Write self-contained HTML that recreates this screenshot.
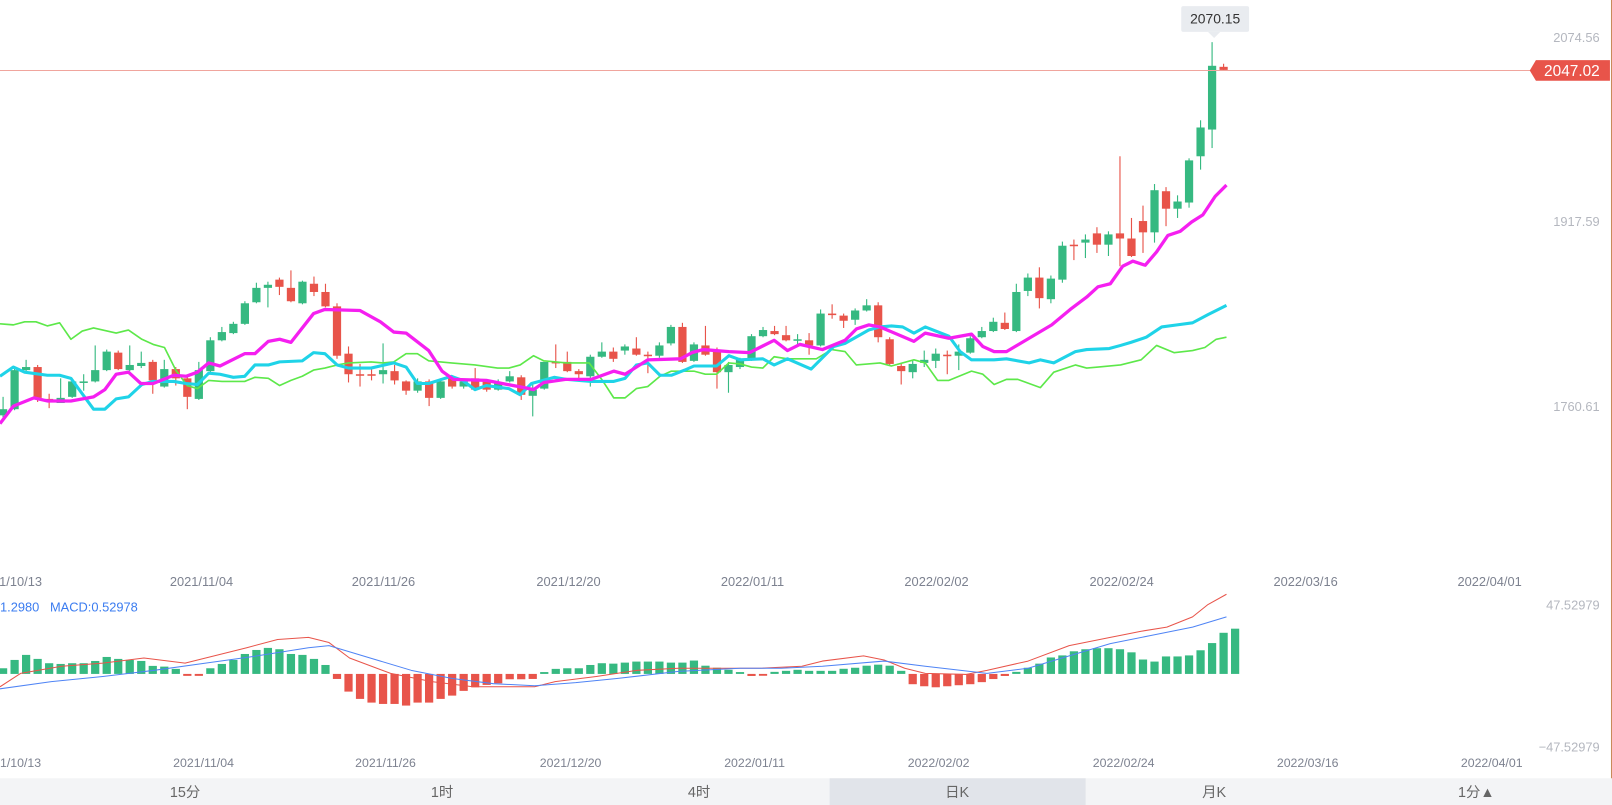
<!DOCTYPE html>
<html><head><meta charset="utf-8">
<style>
html,body{margin:0;padding:0;background:#fff;overflow:hidden;}
svg{display:block;}
text{font-family:"Liberation Sans","Noto Sans CJK SC",sans-serif;}
</style></head>
<body>
<svg id="s" width="1612" height="805" viewBox="0 0 1568 783" preserveAspectRatio="none" xmlns="http://www.w3.org/2000/svg">
<rect width="1568" height="783" fill="#fff"/>
<g id="cd"></g>
<g id="ln"></g>
<g id="mc"></g>
<line x1="0" y1="68.6" x2="1490" y2="68.6" stroke="#f0a59d" stroke-width="1"/>
<path d="M1488 68.6 L1494 58.5 H1566 V78.5 H1494 Z" fill="#e8544a"/>
<text x="1529" y="74" fill="#fff" font-size="15" text-anchor="middle">2047.02</text>
<rect x="1149" y="6" width="66" height="25" rx="2" fill="#e9ecf0"/>
<path d="M1175 31 L1181 37 L1187 31 Z" fill="#e9ecf0"/>
<text x="1182" y="23" fill="#333" font-size="13.5" text-anchor="middle">2070.15</text>
<g font-size="12.5" fill="#b4b7bf" text-anchor="end">
<text x="1556" y="41">2074.56</text>
<text x="1556" y="220">1917.59</text>
<text x="1556" y="400">1760.61</text>
<text x="1556" y="593">47.52979</text>
<text x="1556" y="731">−47.52979</text>
</g>
<g font-size="12.5" fill="#7d8290" text-anchor="middle">
<text x="20" y="570">1/10/13</text>
<text x="196" y="570">2021/11/04</text>
<text x="373" y="570">2021/11/26</text>
<text x="553" y="570">2021/12/20</text>
<text x="732" y="570">2022/01/11</text>
<text x="911" y="570">2022/02/02</text>
<text x="1091" y="570">2022/02/24</text>
<text x="1270" y="570">2022/03/16</text>
<text x="1449" y="570">2022/04/01</text>
</g>
<g font-size="12" fill="#7d8290" text-anchor="middle">
<text x="20" y="746">1/10/13</text>
<text x="198" y="746">2021/11/04</text>
<text x="375" y="746">2021/11/26</text>
<text x="555" y="746">2021/12/20</text>
<text x="734" y="746">2022/01/11</text>
<text x="913" y="746">2022/02/02</text>
<text x="1093" y="746">2022/02/24</text>
<text x="1272" y="746">2022/03/16</text>
<text x="1451" y="746">2022/04/01</text>
</g>
<text x="0" y="595" font-size="12.5" fill="#3b7cf0" xml:space="preserve">1.2980   MACD:0.52978</text>
<rect x="0" y="757" width="1568" height="26" fill="#f3f4f6"/>
<rect x="807" y="757" width="249" height="26" fill="#e1e4ea"/>
<g font-size="14" fill="#666" text-anchor="middle">
<text x="180" y="775">15分</text>
<text x="430" y="775">1时</text>
<text x="680" y="775">4时</text>
<text x="931" y="775">日K</text>
<text x="1181" y="775">月K</text>
<text x="1436" y="775">1分▲</text>
</g>
<line x1="1567.5" y1="0" x2="1567.5" y2="757" stroke="#c88a5a" stroke-width="1"/>
</svg>
<script>
var NS="http://www.w3.org/2000/svg";
function el(p,t,a){var e=document.createElementNS(NS,t);for(var k in a)e.setAttribute(k,a[k]);p.appendChild(e);return e;}
var C=[[404,398,386,406],[398,360,357,399],[360,357,350,361],[357,387,355,391],[388,391,383,397],[392,387,368,392],[386,371,369,387],[372,371,364,380],[371,360,336,372],[360,342,340,361],
[343,359,341,360],[360,355,336,361],[356,353,342,358],[352,370,350,383],[376,359,350,377],[359,368,357,375],[368,386,366,398],[388,360,352,389],[361,331,328,362],[331,323,318,332],
[324,315,313,325],[315,295,293,316],[294,280,275,295],[280,277,274,299],[272,279,270,287],[280,293,263,294],[295,274,273,296],[276,284,269,288],[284,298,276,299],[298,346,295,349],
[344,364,337,372],[364,365,354,376],[364,365,357,370],[364,360,334,373],[361,370,355,374],[371,380,370,384],[380,371,368,382],[371,387,369,395],[387,371,368,388],[367,376,365,378],
[376,371,369,378],[368,379,358,380],[371,379,369,381],[379,372,369,380],[371,366,361,372],[367,384,365,389],[385,379,372,405],[378,352,352,379],[352,353,335,358],[352,361,342,362],
[361,364,359,368],[366,347,345,376],[347,342,333,348],[342,349,338,352],[341,337,335,345],[339,345,328,346],[345,346,342,363],[346,336,333,348],[334,318,316,336],[318,352,314,353],
[351,335,333,352],[336,345,317,346],[340,362,338,378],[362,355,352,382],[357,350,348,359],[350,327,325,351],[327,321,318,328],[322,325,317,326],[326,331,317,332],[330,330,325,336],
[331,336,324,345],[336,305,301,337],[305,306,296,310],[307,312,305,319],[311,302,300,316],[302,297,291,303],[297,328,294,333],[330,354,328,355],[356,361,354,374],[362,354,350,368],
[353,350,341,357],[351,344,339,358],[345,346,341,364],[346,342,335,360],[343,329,327,344],[328,322,318,329],[322,313,309,323],[314,320,304,321],[322,284,276,323],[283,270,266,288],
[270,290,260,300],[291,271,268,295],[272,239,235,275],[238,239,233,253],[236,233,228,251],[227,238,221,246],[238,228,225,249],[227,232,152,259],[232,249,212,250],[215,226,200,246],
[226,185,179,236],[186,203,182,220],[203,196,190,212],[197,156,154,202],[152,124,117,165],[126,64,41,144],[65,68,62,68]];
var G="#36b981",R="#e8544a";
var cd=document.getElementById("cd");
C.forEach(function(c,i){var x=3+11.2*i;var up=c[1]<=c[0];var col=up?G:R;
el(cd,"line",{x1:x,x2:x,y1:c[2],y2:c[3],stroke:col,"stroke-width":1.1});
var t=Math.min(c[0],c[1]),h=Math.max(1.5,Math.abs(c[0]-c[1]));
el(cd,"rect",{x:x-4,y:t,width:8,height:h,fill:col});});
function pl(p,pts,col,w){el(document.getElementById(p),"polyline",{points:pts.map(function(q){return q.join(",")}).join(" "),fill:"none",stroke:col,"stroke-width":w,"stroke-linejoin":"round"});}
var GR=[[0,315],[13,316],[24,313],[35,313],[46,317],[58,314],[69,330],[80,322],[91,319],[113,324],[125,321],[138,330],[149,335],[160,338],[171,360],[182,375],[192,378],[203,370],[216,371],[238,371],[248,367],[261,368],[272,375],[283,370],[294,366],[305,360],[316,358],[328,355],[339,353],[361,352],[372,353],[383,352],[395,344],[406,344],[417,351],[439,353],[462,355],[484,358],[495,358],[506,355],[519,346],[529,351],[551,353],[573,353],[586,370],[597,387],[608,387],[619,378],[630,376],[642,366],[653,361],[675,361],[686,364],[697,364],[709,353],[720,354],[731,357],[742,358],[753,347],[766,349],[794,349],[809,340],[822,342],[833,355],[856,353],[867,356],[889,350],[900,353],[912,370],[923,370],[945,361],[956,364],[967,374],[979,369],[990,369],[1001,373],[1012,377],[1025,362],[1046,355],[1057,358],[1068,357],[1090,355],[1110,350],[1125,336],[1142,343],[1160,341],[1172,338],[1183,330],[1193,328]];
var CY=[[0,366],[13,357],[24,362],[46,365],[58,365],[69,368],[91,398],[102,398],[113,388],[125,386],[138,374],[149,371],[169,371],[181,373],[192,374],[203,363],[214,364],[227,367],[238,366],[248,355],[261,355],[272,352],[294,351],[305,343],[316,344],[328,355],[339,358],[361,358],[383,353],[395,357],[406,373],[417,373],[439,366],[450,370],[462,379],[473,375],[495,378],[506,384],[517,373],[539,367],[551,369],[575,371],[597,371],[608,368],[619,355],[630,353],[642,365],[653,365],[666,360],[675,356],[697,356],[709,346],[720,350],[742,349],[753,355],[766,349],[789,359],[811,337],[822,334],[845,321],[856,318],[867,317],[878,318],[889,324],[900,318],[923,327],[934,342],[945,350],[967,350],[979,349],[1001,353],[1012,350],[1025,353],[1046,342],[1057,340],[1079,339],[1090,336],[1100,333],[1115,328],[1130,318],[1145,316],[1160,314],[1175,306],[1193,297]];
var MG=[[0,412],[13,395],[33,387],[46,390],[69,390],[91,386],[102,379],[113,364],[125,362],[137,373],[149,373],[169,365],[181,366],[192,362],[203,353],[214,356],[238,344],[248,344],[261,332],[272,330],[283,333],[305,305],[316,301],[350,302],[370,313],[383,323],[395,324],[417,341],[430,361],[441,369],[473,370],[499,375],[510,377],[519,379],[529,372],[550,369],[575,369],[597,361],[608,364],[630,350],[662,349],[673,343],[684,340],[709,342],[729,343],[753,331],[766,341],[778,335],[800,340],[822,331],[833,320],[845,316],[856,318],[889,332],[900,324],[923,329],[945,325],[956,337],[967,342],[979,342],[1001,329],[1023,316],[1041,301],[1057,289],[1068,279],[1080,276],[1092,259],[1102,254],[1114,258],[1125,245],[1136,229],[1148,225],[1159,216],[1170,209],[1182,191],[1193,180]];
pl("ln",GR,"#5de84a",1.6);pl("ln",CY,"#1fd3e8",3);pl("ln",MG,"#f51ff0",3.2);
var M=[5.5,13.6,18.5,14.6,10.4,9.7,10.4,10.4,12.6,16.5,14.6,13.6,12.6,7.8,7.1,4.9,-1.9,-1.9,5.5,9.7,13.6,19.4,23.3,25.3,24,19.4,18.5,14.6,8.7,-4.9,-17.2,-24.3,-27.9,-29.2,-29.2,-30.8,-27.9,-27.9,-24.3,-21.1,-16.5,-13,-10.7,-9.1,-5.2,-5.2,-4.9,1.6,4.9,5.5,5.5,8.7,10.4,
10,11,12,12,12,11,11,13,8,6,4,1,-2,-1,2,3,4,3,3,3,5,6,8,9,8,3,-10,-12,-13,-12,-11,-10,-8,-5,-2,2,6,10,16,18,22,24,25,25,24,21,14,12,17,17,18,23,30,40,44];
var mc=document.getElementById("mc"),Z=655.5;
M.forEach(function(v,i){var x=3+11.2*i;var h=Math.max(1.8,Math.abs(v));el(mc,"rect",{x:x-4,y:v>0?Z-h:Z,width:8,height:h,fill:v>0?G:R});});
pl("mc",[[0,668],[20,655],[60,648],[100,645],[140,640],[180,645],[200,640],[240,630],[270,622],[300,620],[320,625],[340,640],[380,655],[420,663],[460,668],[500,668],[520,668],[540,663],[580,658],[620,652],[660,650],[700,650],[740,650],[780,648],[800,643],[840,638],[860,642],[880,650],[900,655],[940,656],[960,652],[1000,643],[1040,628],[1080,620],[1110,614],[1135,610],[1160,600],[1175,588],[1193,578]],"#e8544a",1);
pl("mc",[[0,670],[50,663],[100,658],[150,652],[200,645],[250,638],[300,630],[320,628],[360,640],[400,652],[440,660],[480,665],[520,667],[560,664],[600,660],[660,653],[720,650],[760,650],[800,648],[860,643],[900,648],[960,655],[1000,650],[1040,638],[1080,626],[1120,618],[1160,610],[1193,600]],"#4f84f5",1);
</script>
</body></html>
